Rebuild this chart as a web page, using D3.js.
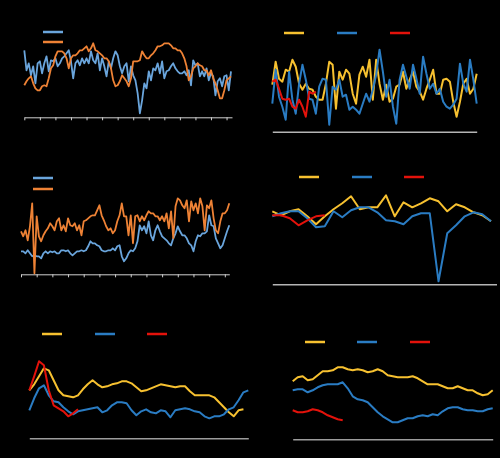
<!DOCTYPE html>
<html lang="en">
<head>
  <meta charset="UTF-8">
  <title>Six panels</title>
  <style>
    body {
      margin: 0;
      padding: 0;
      background-color: #000;
    }
    svg {
      display: block;
    }
  </style>
</head>
<body>
  <div id="chart"></div>

  <script src="https://d3js.org/d3.v7.min.js"></script>
  <script>
    // Painel 1 (topo esquerda)
    const p1Blue = [67,47,54,42,51,34,54,56,44,54,61,46,57,56,59,51,54,59,61,64,
      67,56,39,54,57,52,59,54,59,54,66,57,54,64,47,59,51,41,56,49,
      59,66,62,51,44,51,54,36,51,42,37,24,4,17,34,29,46,37,49,47,
      54,44,56,39,46,47,51,54,49,46,44,44,46,42,47,32,57,52,54,41,
      46,41,49,37,44,41,22,36,39,31,41,42,27,46];
    const p1Orange = [32,36,39,41,34,29,27,27,31,32,31,39,49,52,61,66,66,66,64,59,
      49,59,62,62,64,67,67,69,71,66,69,74,67,66,64,62,59,59,56,49,
      37,31,32,36,42,39,36,31,39,56,56,56,57,66,62,59,59,62,64,67,
      71,71,72,74,74,74,72,69,69,67,67,64,59,51,37,41,49,51,54,52,
      51,47,47,42,47,39,34,27,19,19,27,37,39,41];

    // Painel 2 (topo direita)
    const p2Yellow = [47,70,53,50,62,60,72,65,48,42,48,43,42,35,32,32,48,70,67,23,
      60,52,62,58,38,28,57,65,55,72,32,72,48,32,47,30,33,45,47,60,
      43,52,60,45,40,32,43,52,62,38,38,52,53,50,30,15,30,48,53,38,43,58];
    const p2Blue = [28,62,35,25,12,60,32,18,48,67,52,33,32,18,45,53,52,7,45,42,
      52,35,37,22,25,22,18,28,38,30,42,57,82,60,35,52,25,8,52,67,
      55,43,67,53,38,75,58,43,48,38,43,30,25,23,27,33,68,48,40,72,52,28];
    const p2Red = [50,52,43,33,32,33,25,23,32,25,15,40,38,40];

    // Painel 3 (meio esquerda)
    const p3Blue = [23,23,21,24,21,18,19,18,18,16,21,23,21,23,22,23,21,21,24,24,
      23,24,21,19,21,23,23,24,23,24,28,33,31,31,29,28,24,23,23,24,
      24,26,24,28,29,18,13,16,21,24,23,26,33,49,44,48,41,53,39,34,
      44,49,43,38,36,34,31,29,36,41,48,43,39,39,36,31,29,23,33,39,
      38,41,41,43,59,49,48,36,31,26,29,36,43,49];
    const p3Orange = [43,38,44,34,48,71,1,58,38,33,39,43,46,51,48,44,53,56,44,49,
      43,56,49,48,51,44,49,39,53,54,56,58,59,59,64,69,59,54,48,44,
      46,41,44,53,59,71,58,58,39,59,31,58,59,53,58,54,59,63,61,61,
      58,58,54,58,53,61,46,63,36,68,76,74,69,66,74,53,73,64,71,61,
      76,68,44,69,66,74,56,44,41,53,61,61,64,71];

    // Painel 4 (meio direita)
    const p4Yellow = [73,69,73,75,68,60,68,75,81,88,75,77,77,89,68,82,77,81,86,83,73,80,77,72,69,63];
    const p4Blue = [68,71,73,73,66,57,58,73,67,74,77,77,72,64,63,60,68,71,71,3,51,59,68,72,70,63];
    const p4Red = [69,69,66,59,64,68,69];

    // Painel 5 (baixo esquerda)
    const p5Yellow = [48,54,62,70,68,58,48,43,42,41,43,49,54,58,54,51,52,54,55,57,
      57,55,51,47,48,50,52,54,53,52,51,52,52,47,43,43,43,43,41,36,31,26,22,28,29];
    const p5Blue = [28,40,50,53,43,37,36,31,27,24,27,28,29,30,31,26,28,33,36,36,
      35,28,23,27,29,26,25,28,27,21,28,29,30,29,27,26,22,20,22,22,24,29,31,38,46,48];
    const p5Red = [48,62,77,73,48,33,30,27,22,25,29];

    // Painel 6 (baixo direita)
    const p6Yellow = [58,62,63,59,60,64,68,68,69,72,72,70,69,70,69,67,68,70,68,64,
      63,62,62,62,63,61,58,55,55,55,53,51,51,53,51,49,49,46,44,45,49];
    const p6Blue = [49,50,50,47,49,52,54,55,55,55,57,51,43,40,39,37,32,27,23,20,
      17,17,19,21,21,23,24,23,25,24,28,31,32,32,30,29,29,28,28,30,31];
    const p6Red = [29,27,27,28,30,29,27,24,22,20,19];

    const lightBlue = "#6aa5dc";
    const orange = "#ee8235";
    const yellow = "#f7c130";
    const blue = "#2a7cc3";
    const red = "#e3120b";

    const svg = d3.select("#chart")
      .append("svg")
      .attr("width", 500)
      .attr("height", 458);

    svg.append("rect")
      .attr("width", 500)
      .attr("height", 458)
      .attr("fill", "#000");

    // Configuração de cada painel
    const panels = [
      {
        x0: 24.3, x1: 231, xAxisEnd: 232, yBase: 117.3, yMax: 80, yTop: 37.3,
        ticks: true, axisColor: "#cfcfcf", width: 1.8,
        series: [
          { values: p1Blue, color: lightBlue },
          { values: p1Orange, color: orange }
        ],
        legend: [ { x: 43, y: 32, color: lightBlue }, { x: 43, y: 42, color: orange } ]
      },
      {
        x0: 272.3, x1: 476.7, xAxisEnd: 476.7, yBase: 131.7, yMax: 90, yTop: 41.7,
        ticks: false, axisColor: "#b5b5b5", width: 2,
        series: [
          { values: p2Yellow, color: yellow },
          { values: p2Blue, color: blue },
          { values: p2Red, color: red }
        ],
        legend: [ { x: 284, y: 33, color: yellow }, { x: 337, y: 33, color: blue }, { x: 390, y: 33, color: red } ]
      },
      {
        x0: 21, x1: 229.3, xAxisEnd: 229.3, yBase: 274.3, yMax: 80, yTop: 194.3,
        ticks: true, axisColor: "#cfcfcf", width: 1.8,
        series: [
          { values: p3Blue, color: lightBlue },
          { values: p3Orange, color: orange }
        ],
        legend: [ { x: 33, y: 178, color: lightBlue }, { x: 33, y: 189, color: orange } ]
      },
      {
        x0: 272.3, x1: 491, xAxisEnd: 496.5, yBase: 284.3, yMax: 100, yTop: 184.3,
        ticks: false, axisColor: "#b5b5b5", width: 2,
        series: [
          { values: p4Yellow, color: yellow },
          { values: p4Blue, color: blue },
          { values: p4Red, color: red }
        ],
        legend: [ { x: 299, y: 177, color: yellow }, { x: 352, y: 177, color: blue }, { x: 404, y: 177, color: red } ]
      },
      {
        x0: 29.3, x1: 248.3, xAxisEnd: 248.3, yBase: 438.3, yMax: 100, yTop: 338.3,
        ticks: false, axisColor: "#9c9c9c", width: 2,
        series: [
          { values: p5Yellow, color: yellow },
          { values: p5Blue, color: blue },
          { values: p5Red, color: red }
        ],
        legend: [ { x: 42, y: 334, color: yellow }, { x: 95, y: 334, color: blue }, { x: 147, y: 334, color: red } ]
      },
      {
        x0: 292.7, x1: 492.7, xAxisEnd: 492.7, yBase: 439.3, yMax: 100, yTop: 339.3,
        ticks: false, axisColor: "#9c9c9c", width: 2,
        series: [
          { values: p6Yellow, color: yellow },
          { values: p6Blue, color: blue },
          { values: p6Red, color: red }
        ],
        legend: [ { x: 305, y: 342, color: yellow }, { x: 357, y: 342, color: blue }, { x: 410, y: 342, color: red } ]
      }
    ];

    function drawPanel(p) {
      const n = d3.max(p.series, s => s.values.length);
      const x = d3.scaleLinear().domain([0, n - 1]).range([p.x0, p.x1]);
      const y = d3.scaleLinear().domain([0, p.yMax]).range([p.yBase, p.yTop]);

      const g = svg.append("g");

      // Eixo horizontal
      const xAxisScale = d3.scaleLinear()
        .domain([0, n - 1 + (p.xAxisEnd - p.x1) / ((p.x1 - p.x0) / (n - 1))])
        .range([p.x0, p.xAxisEnd]);
      const axis = d3.axisBottom(xAxisScale)
        .tickSizeOuter(0)
        .tickFormat("");
      if (p.ticks) {
        axis.tickValues(d3.range(0, n, 7)).tickSizeInner(3);
      } else {
        axis.tickValues([]);
      }
      const ax = g.append("g")
        .attr("transform", `translate(0, ${p.yBase})`)
        .call(axis);
      ax.select(".domain").attr("stroke", p.axisColor).attr("stroke-width", p.ticks ? 1 : 1.4);
      ax.selectAll(".tick line").attr("stroke", p.axisColor).attr("stroke-width", 1);

      // Linhas
      const line = d3.line()
        .x((d, i) => x(i))
        .y(d => y(d));

      p.series.forEach(s => {
        g.append("path")
          .datum(s.values)
          .attr("fill", "none")
          .attr("stroke", s.color)
          .attr("stroke-width", p.width)
          .attr("stroke-linejoin", "round")
          .attr("d", line);
      });

      // Legenda
      p.legend.forEach(l => {
        g.append("line")
          .attr("x1", l.x)
          .attr("x2", l.x + 20)
          .attr("y1", l.y)
          .attr("y2", l.y)
          .attr("stroke", l.color)
          .attr("stroke-width", 2.5);
      });
    }

    panels.forEach(drawPanel);
  </script>
</body>
</html>
